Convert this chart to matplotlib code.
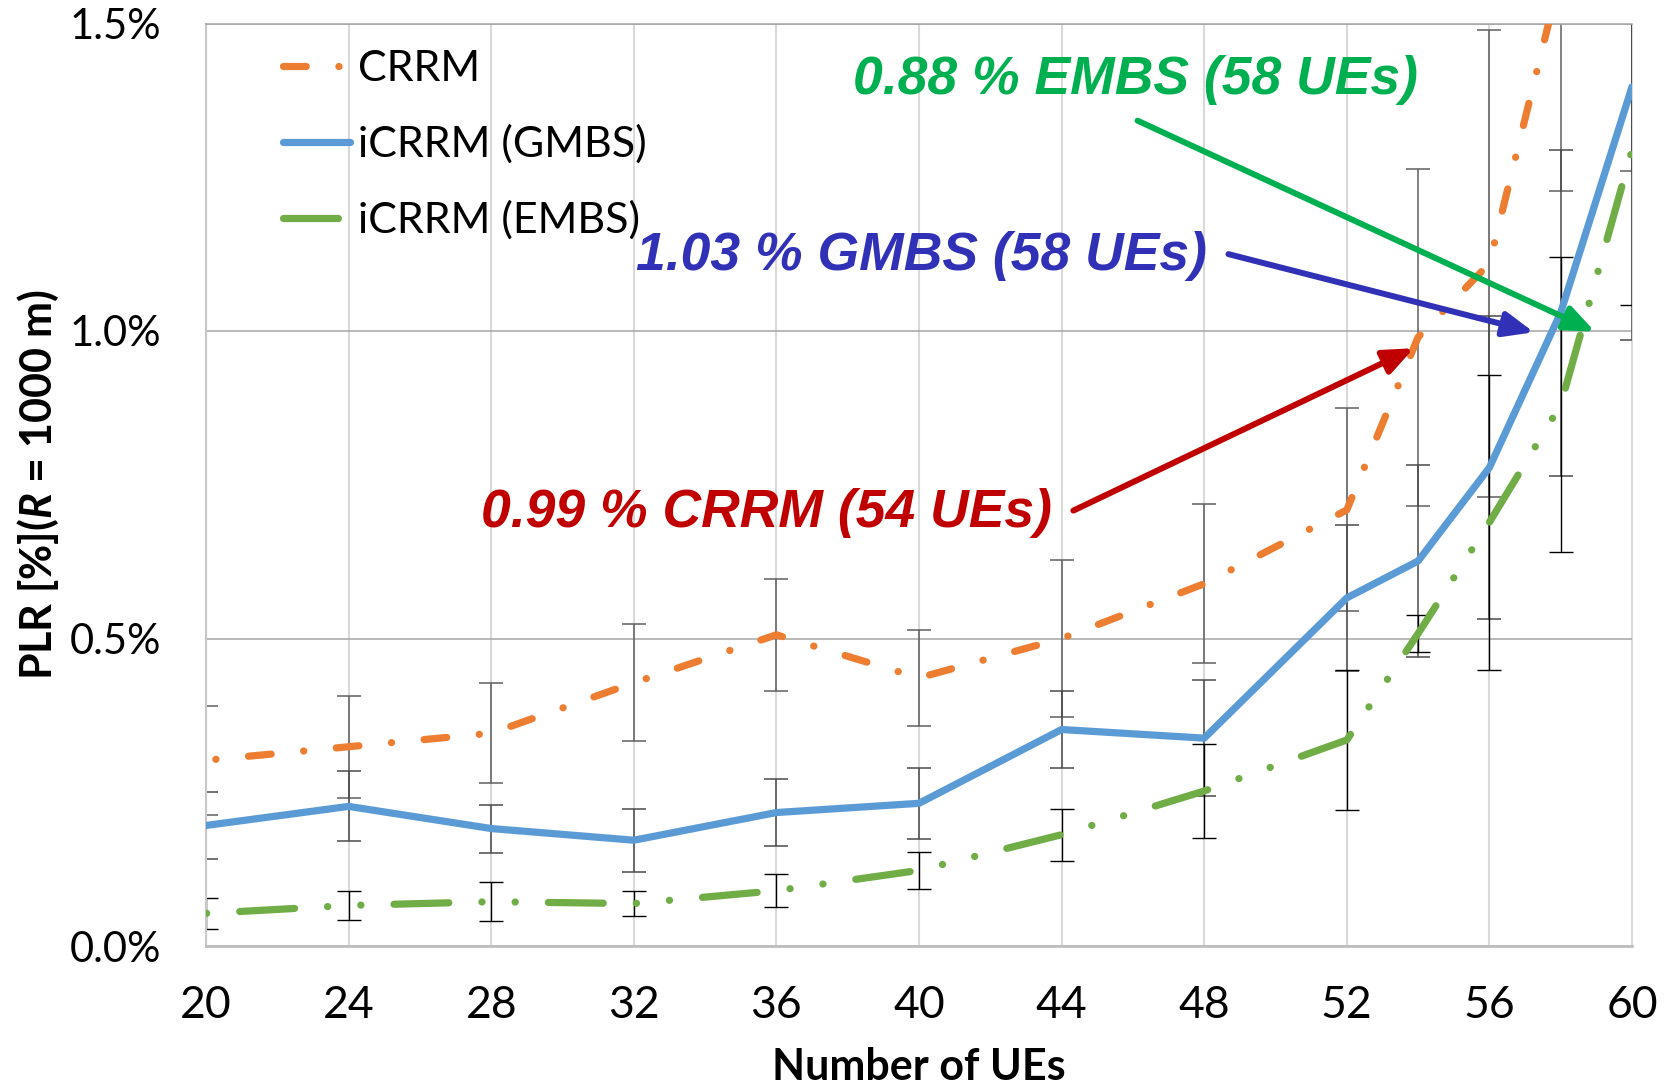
import matplotlib
matplotlib.use("Agg")
import matplotlib.pyplot as plt
from matplotlib.lines import Line2D
from matplotlib.ticker import PercentFormatter

# PLR vs number of UEs, R = 1000 m (values in %)
ues = [20, 24, 28, 32, 36, 40, 44, 48, 52, 54, 56, 58, 60]
crrm = [0.302, 0.324, 0.346, 0.428, 0.506, 0.436, 0.500, 0.589, 0.709, 0.99, 1.11, 1.58, 2.05]
crrm_err = [0.089, 0.083, 0.081, 0.095, 0.091, 0.078, 0.128, 0.129, 0.165, 0.274, 0.38, 0.353, 0.79]
gmbs = [0.196, 0.227, 0.191, 0.172, 0.217, 0.232, 0.352, 0.338, 0.566, 0.626, 0.778, 1.03, 1.397]
gmbs_err = [0.055, 0.057, 0.039, 0.051, 0.054, 0.058, 0.062, 0.094, 0.119, 0.156, 0.247, 0.265, 0.412]
embs = [0.053, 0.066, 0.072, 0.069, 0.090, 0.123, 0.181, 0.252, 0.335, 0.508, 0.689, 0.88, 1.294]
embs_err = [0.025, 0.024, 0.032, 0.020, 0.027, 0.030, 0.042, 0.076, 0.114, 0.03, 0.24, 0.24, 0.252]

x_ticks = [20, 24, 28, 32, 36, 40, 44, 48, 52, 56, 60]
y_ticks = [0.0, 0.5, 1.0, 1.5]

plt.rcParams["font.family"] = ["Lato", "DejaVu Sans"]
plt.rcParams["mathtext.fontset"] = "custom"
plt.rcParams["mathtext.bfit"] = "Lato:italic:bold"
plt.rcParams["mathtext.rm"] = "Lato:bold"

W, H = 1675, 1088
fig = plt.figure(figsize=(W / 100, H / 100), dpi=100)
ax = fig.add_axes([206 / W, 1 - 946 / H, 1426 / W, 922.5 / H])

LW = 5.2
ORANGE, BLUE, GREEN = "#ED7D31", "#5B9BD5", "#70AD47"
DASH_DOT = (3.15, 4.52, 0.02, 4.52)
DASH_DOT_DOT = (7.6, 4.58, 0.02, 4.58, 0.02, 4.58)

# error bars under the lines
ax.errorbar(ues, crrm, yerr=crrm_err, fmt="none", ecolor="#5f5f5f",
            elinewidth=1.1, capsize=8.5, capthick=1.1, zorder=2)
ax.errorbar(ues, gmbs, yerr=gmbs_err, fmt="none", ecolor="#4a4a4a",
            elinewidth=1.1, capsize=8.5, capthick=1.1, zorder=2)
ax.errorbar(ues, embs, yerr=embs_err, fmt="none", ecolor="#000000",
            elinewidth=1.0, capsize=8.5, capthick=1.0, zorder=2)

ax.plot(ues, crrm, color=ORANGE, lw=LW, linestyle=(6.3, DASH_DOT),
        dash_capstyle="round", solid_joinstyle="round", zorder=3)
ax.plot(ues, gmbs, color=BLUE, lw=LW,
        solid_capstyle="round", solid_joinstyle="round", zorder=3)
ax.plot(ues, embs, color=GREEN, lw=LW, linestyle=(16.7, DASH_DOT_DOT),
        dash_capstyle="round", solid_joinstyle="round", zorder=3)

ax.set_xlim(20, 60)
ax.set_ylim(0, 1.5)
ax.set_xticks(x_ticks)
ax.set_yticks(y_ticks)
ax.yaxis.set_major_formatter(PercentFormatter(xmax=100, decimals=1))
ax.tick_params(axis="x", length=0, pad=28, labelsize=32)
ax.tick_params(axis="y", length=0, pad=32, labelsize=30)

ax.set_axisbelow(True)
ax.grid(axis="y", color="#A6A6A6", lw=1.1)
ax.grid(axis="x", color="#D9D9D9", lw=1.5)
ax.spines["top"].set_color("#A6A6A6")
ax.spines["top"].set_linewidth(1.1)
ax.spines["right"].set_color("#D9D9D9")
ax.spines["left"].set_color("#C8C8C8")
ax.spines["left"].set_linewidth(1.5)
ax.spines["bottom"].set_color("#BFBFBF")
ax.spines["bottom"].set_linewidth(2)

ax.set_xlabel("Number of UEs", fontsize=31, fontweight="bold", labelpad=15)
ax.set_ylabel(r"PLR [%]($\mathbfit{R}$ = 1000 m)", fontsize=31, fontweight="bold")
ax.yaxis.set_label_coords(-0.102, 0.5)

# legend keys start their dash pattern at the beginning of the key
handles = [
    Line2D([], [], color=ORANGE, lw=LW, linestyle=(0, DASH_DOT), dash_capstyle="round"),
    Line2D([], [], color=BLUE, lw=LW, solid_capstyle="round"),
    Line2D([], [], color=GREEN, lw=LW, linestyle=(0, DASH_DOT_DOT), dash_capstyle="round"),
]
labels = ["CRRM", "iCRRM (GMBS)", "iCRRM (EMBS)"]
ax.legend(handles, labels, loc="upper left", bbox_to_anchor=(0.042, 0.99), frameon=False,
          fontsize=31, handlelength=1.55, handletextpad=0.2, labelspacing=0.85,
          borderaxespad=0)

# threshold annotations
notes = [
    ("0.88 % EMBS (58 UEs)", "#00B050", (46.06, 1.408), (46.13, 1.342), (58.96, 0.999)),
    ("1.03 % GMBS (58 UEs)", "#3131B7", (40.08, 1.122), (48.68, 1.125), (57.25, 0.998)),
    ("0.99 % CRRM (54 UEs)", "#C00000", (35.71, 0.704), (44.33, 0.708), (53.88, 0.972)),
]
for text, color, txy, tail, head in notes:
    ax.text(*txy, text, color=color, ha="center", va="center", fontsize=38.5,
            fontweight="bold", fontstyle="italic", family="Liberation Sans", zorder=5)
    ax.annotate("", xy=head, xytext=tail, zorder=5,
                arrowprops=dict(arrowstyle="-|>,head_length=1.2,head_width=0.5",
                                mutation_scale=15, color=color, lw=4.3,
                                shrinkA=0, shrinkB=0))

fig.savefig("out.png", dpi=100)
